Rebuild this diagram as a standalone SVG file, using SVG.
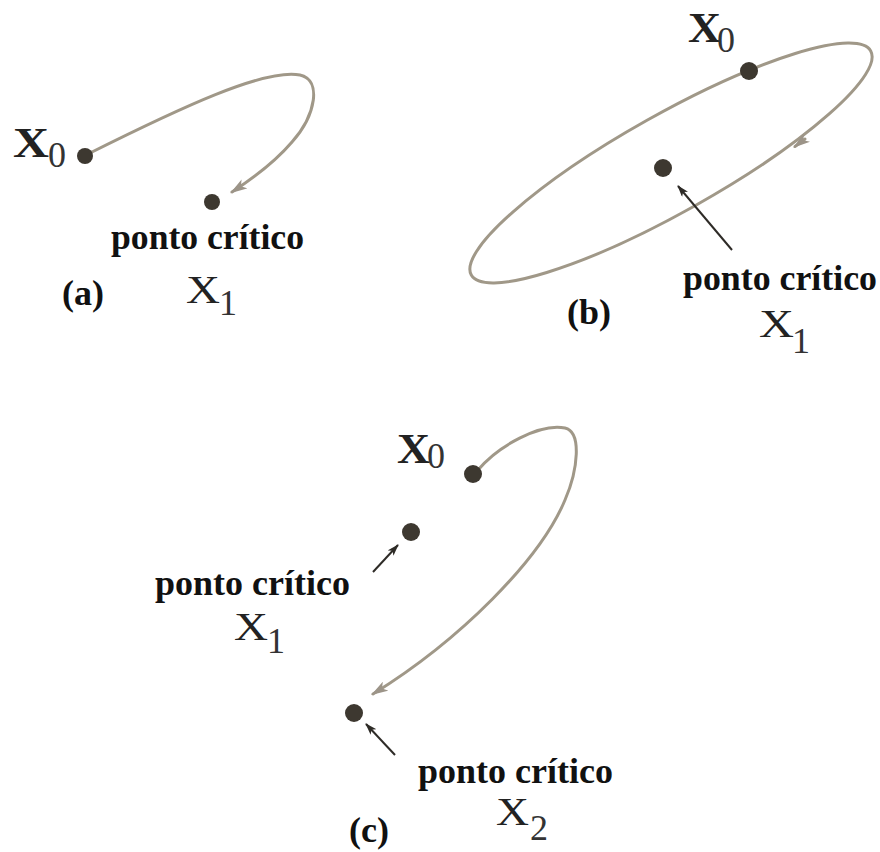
<svg xmlns="http://www.w3.org/2000/svg" width="880" height="852" viewBox="0 0 880 852">
<style>
.bg{fill:#ffffff}
.dot{fill:#3d3830}
.traj{fill:none;stroke:#a09888;stroke-width:3;stroke-linecap:round}
.ptr{fill:none;stroke:#2e2b27;stroke-width:2}
.lbl{font-family:"Liberation Serif","Times New Roman",serif;font-weight:bold;font-size:36px;fill:#111}
.xb{font-family:"Liberation Serif","Times New Roman",serif;font-weight:bold;font-size:42px;fill:#222}
.xr{font-family:"Liberation Serif","Times New Roman",serif;font-size:41px;fill:#222}
.sub{font-family:"Liberation Serif","Times New Roman",serif;font-size:36px;fill:#333}
</style>
<defs>
<marker id="grey-arrow" viewBox="0 0 16 10" refX="14" refY="5" markerWidth="17" markerHeight="11" markerUnits="userSpaceOnUse" orient="auto">
<path d="M0,0 L16,5 L0,10 L4,5 z" fill="#9c9488"/>
</marker>
<marker id="black-arrow" viewBox="0 0 12 8" refX="11" refY="4" markerWidth="12" markerHeight="8" markerUnits="userSpaceOnUse" orient="auto">
<path d="M0,0 L12,4 L0,8 L3,4 z" fill="#2e2b27"/>
</marker>
</defs>
<rect class="bg" x="0" y="0" width="880" height="852"/>

<g id="connectors">
<path class="traj" d="M88,154 C180,108 265,68 300,75 C322,80 316,115 292,142 C275,162 255,177 232,192" marker-end="url(#grey-arrow)"/>
<ellipse class="traj" cx="671" cy="163" rx="229" ry="49" transform="rotate(-29.3 671 163)"/>
<path class="traj" d="M805,139 L795,146.5" marker-end="url(#grey-arrow)"/>
<path class="ptr" d="M732,250 L678,186" marker-end="url(#black-arrow)"/>
<path class="traj" d="M478,470 C498,446 540,423 565,428 C582,432 578,470 565,500 C540,560 460,640 373,694" marker-end="url(#grey-arrow)"/>
<path class="ptr" d="M373,572 L398,545" marker-end="url(#black-arrow)"/>
<path class="ptr" d="M395,755 L366,724" marker-end="url(#black-arrow)"/>
</g>

<g id="a-x0">
<circle class="dot" cx="85" cy="156" r="8"/>
<text class="xb" x="13" y="157" textLength="36" lengthAdjust="spacingAndGlyphs">X</text>
<text class="sub" x="48" y="167">0</text>
</g>
<g id="a-x1">
<circle class="dot" cx="212" cy="202" r="8"/>
<text class="lbl" x="111" y="249" textLength="193" lengthAdjust="spacingAndGlyphs">ponto crítico</text>
<text class="xr" x="186" y="303" textLength="34" lengthAdjust="spacingAndGlyphs">X</text>
<text class="sub" x="219" y="315">1</text>
</g>
<text id="a-label" class="lbl" x="62" y="305">(a)</text>

<g id="b-x0">
<circle class="dot" cx="749" cy="71" r="9"/>
<text class="xb" x="688" y="42" textLength="33" lengthAdjust="spacingAndGlyphs">X</text>
<text class="sub" x="717" y="52">0</text>
</g>
<g id="b-x1">
<circle class="dot" cx="663" cy="168" r="9"/>
<text class="lbl" x="683" y="290" textLength="194" lengthAdjust="spacingAndGlyphs">ponto crítico</text>
<text class="xr" x="759" y="337" textLength="35" lengthAdjust="spacingAndGlyphs">X</text>
<text class="sub" x="792" y="353">1</text>
</g>
<text id="b-label" class="lbl" x="567" y="324">(b)</text>

<g id="c-x0">
<circle class="dot" cx="473" cy="474" r="9"/>
<text class="xb" x="397" y="463" textLength="33" lengthAdjust="spacingAndGlyphs">X</text>
<text class="sub" x="427" y="468">0</text>
</g>
<g id="c-x1">
<circle class="dot" cx="411" cy="532" r="9"/>
<text class="lbl" x="155" y="595" textLength="195" lengthAdjust="spacingAndGlyphs">ponto crítico</text>
<text class="xr" x="234" y="640" textLength="34" lengthAdjust="spacingAndGlyphs">X</text>
<text class="sub" x="267" y="653">1</text>
</g>
<g id="c-x2">
<circle class="dot" cx="354" cy="713" r="9"/>
<text class="lbl" x="418" y="783" textLength="195" lengthAdjust="spacingAndGlyphs">ponto crítico</text>
<text class="xr" x="496" y="825" textLength="33" lengthAdjust="spacingAndGlyphs">X</text>
<text class="sub" x="530" y="840">2</text>
</g>
<text id="c-label" class="lbl" x="349" y="842">(c)</text>
</svg>
